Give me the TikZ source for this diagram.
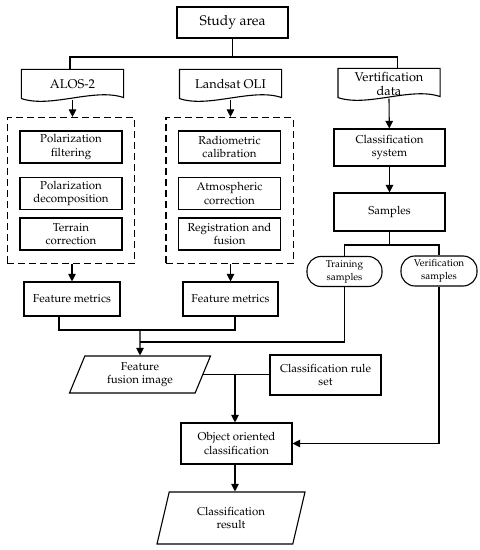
\documentclass[tikz,border=0pt]{standalone}
\usepackage[T1]{fontenc}
\usepackage{mathpazo}
\usetikzlibrary{arrows.meta,calc,fit,shapes.geometric}

\begin{document}
\begin{tikzpicture}[x=1bp, y=-1bp, >={Triangle[length=7.5bp,width=7.5bp]}, line width=1.1bp,
  box/.style={draw, rectangle, align=center, inner sep=1bp, font=\fontsize{11.5}{13.5}\selectfont},
  docnode/.style={rectangle, align=center, inner sep=0pt, minimum width=101bp, minimum height=29bp, font=\fontsize{12.8}{14}\selectfont},
  pill/.style={draw, rectangle, rounded corners=14bp, align=center, inner sep=1bp, minimum width=75bp, minimum height=30bp, font=\fontsize{10}{13}\selectfont},
  slanted/.style={draw, trapezium, trapezium left angle=60, trapezium right angle=120, trapezium stretches body, align=center, inner sep=1bp, font=\fontsize{11.5}{13.5}\selectfont},
  dashbox/.style={draw, dash pattern=on 7bp off 4bp, inner xsep=12bp, inner ysep=13bp}]
\useasboundingbox (0,0) rectangle (480,550);

% Top of the chart
\node [box, minimum width=111bp, minimum height=31bp, font=\fontsize{14}{16}\selectfont] (study) at (232.5,22.5) {Study area};
\node [docnode] (alos) at (72.5,84.5) {ALOS-2};
\node [docnode] (landsat) at (230.5,84.5) {Landsat OLI};
\node [docnode] (verif) at (389,83.5) {Vertification\\data};
\foreach \n in {alos,landsat,verif}
  \draw (\n.north west) -- (\n.north east) -- ($(\n.south east)+(0,-2)$)
    .. controls ($(\n.south)+(22,-12)$) and ($(\n.south)+(-22,9)$) .. ($(\n.south west)+(0,-1)$) -- cycle;
\coordinate (split) at (232.5,57);
\draw (study) -- (split);
\draw ([xshift=-2.5bp]alos.north) |- (split) -| ([xshift=8.5bp]verif.north);

% Preprocessing
\node [box, minimum width=102bp, minimum height=32bp] (pfilt) at (71,147) {Polarization\\filtering};
\node [box, minimum width=102bp, minimum height=32bp] (pdec) at (71,193.5) {Polarization\\decomposition};
\node [box, minimum width=102bp, minimum height=32bp] (terr) at (71,234) {Terrain\\correction};
\node [box, minimum width=102bp, minimum height=32bp] (radio) at (229.5,147) {Radiometric\\calibration};
\node [box, minimum width=102bp, minimum height=32bp] (atmo) at (229.5,193.5) {Atmospheric\\correction};
\node [box, minimum width=102bp, minimum height=32bp] (regf) at (229.5,234) {Registration and\\fusion};
\node [dashbox, fit=(pfilt)(terr)] (sarbox) {};
\node [dashbox, fit=(radio)(regf)] (optbox) {};
\draw [->] (alos.south) -- (alos.south |- sarbox.north);
\draw [->] (landsat.south) -- (landsat.south |- optbox.north);

\node [box, minimum width=96bp, minimum height=34bp] (fm1) at (72,299) {Feature metrics};
\node [box, minimum width=95bp, minimum height=34bp] (fm2) at (230.5,299) {Feature metrics};
\draw [->] (sarbox.south -| fm1) -- (fm1);
\draw [->] (optbox.south -| fm2) -- (fm2);

% Samples branch
\node [box, minimum width=111bp, minimum height=37bp] (csys) at (389.5,147.5) {Classification\\system};
\node [box, minimum width=111bp, minimum height=38bp] (samples) at (389.5,212) {Samples};
\draw [->] (verif.south) -- (csys);
\draw [->] (csys) -- (samples);
\node [pill] (train) at (344.5,271.5) {Training\\samples};
\node [pill, minimum width=76bp] (vsamp) at (439,271) {Verification\\samples};
\coordinate (ssplit) at (389.5,245);
\draw (samples) -- (ssplit);
\draw (train.north) |- (ssplit) -| (vsamp.north);

% Fusion and classification
\node [slanted, minimum width=141bp, minimum height=37bp] (ffi) at (140,374.5) {Feature\\fusion image};
\node [box, minimum width=111bp, minimum height=40bp] (rules) at (325.5,375) {Classification rule\\set};
\node [box, minimum width=111bp, minimum height=41bp] (ooc) at (236.5,443.5) {Object oriented\\classification};
\node [slanted, trapezium left angle=63, trapezium right angle=117, minimum width=148bp, minimum height=52bp] (result) at (231,518) {Classification\\result};
\coordinate (join) at (140,330);
\coordinate (merge) at (140,342);
\draw ([xshift=-13bp]fm1.south) |- (join);
\draw ([xshift=4.5bp]fm2.south) |- (join);
\draw (train.south) |- (merge);
\draw [->] (join) -- (ffi.north);
\draw (ffi.east) -- (ffi.east -| rules.west);
\draw [->] ([xshift=-1.5bp]ffi.east -| ooc) -- ([xshift=-1.5bp]ooc.north);
\draw [->] (vsamp.south) |- (ooc.east);
\draw [->] ([xshift=-1.5bp]ooc.south) -- ([xshift=-1.5bp]ooc.south |- result.north);
\end{tikzpicture}
\end{document}
